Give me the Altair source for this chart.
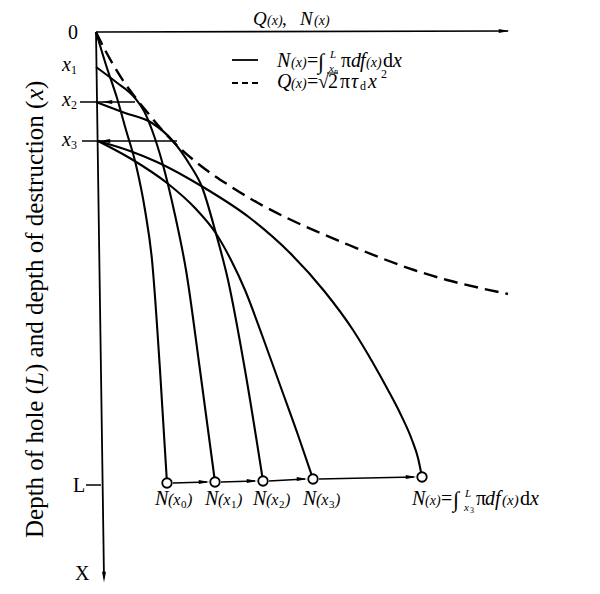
import altair as alt
import pandas as pd

# ---------------- data (N to the right, depth downward; 1 unit ~ 1 px) ----------------
# Q(x) dashed curve
Q_N = [0, 9, 18, 28, 39, 51, 67, 86, 109, 134, 162, 191, 222, 253, 285, 318, 351, 384, 412]
Q_D = [0, 18, 34, 50, 65, 80, 99, 118, 137, 154, 171, 186, 200, 213, 226, 238, 248, 256, 262]

# N(x) curves
C0_N = [0, 10, 21, 30, 40, 49, 56, 64, 71]
C0_D = [0, 33, 66, 98, 133, 178, 228, 338, 451]
C1_N = [0, 20, 39, 48, 56, 67, 79, 90, 104, 119]
C1_D = [35, 50, 66, 79, 98, 133, 183, 238, 338, 450]
C2_N = [0, 29, 56, 76, 94, 106, 119, 132, 149, 167]
C2_D = [70, 81, 91, 108, 133, 155, 198, 248, 338, 449]
C3_N = [2, 37, 71, 99, 119, 135, 149, 166, 184, 202, 217]
C3_D = [109, 128, 151, 176, 200, 228, 258, 303, 353, 403, 447]
C4_N = [2, 34, 61, 107, 154, 194, 229, 257, 277, 292, 304, 316, 322, 326]
C4_D = [109, 119, 130, 155, 186, 221, 260, 298, 331, 358, 381, 408, 426, 445]

# end points N(x0) ... N(x) at the hole depth L
END_N = [71, 119, 167, 217, 326]
END_D = [451, 450, 449, 447, 445]

# depth marks on the vertical axis
DEPTH_X1, DEPTH_X2, DEPTH_X3, DEPTH_L = 35, 70, 109, 453

FONT = "Liberation Serif, Times New Roman, DejaVu Serif, serif"
XS = alt.Scale(domain=[0, 416], range=[88, 504])
YS = alt.Scale(domain=[0, 550], range=[24, 574])


def X(f):
    return alt.X(f"{f}:Q", scale=XS, axis=None)


def Y(f):
    return alt.Y(f"{f}:Q", scale=YS, axis=None)


rows = []
for name, ns, ds in [("x0", C0_N, C0_D), ("x1", C1_N, C1_D), ("x2", C2_N, C2_D),
                     ("x3a", C3_N, C3_D), ("x3b", C4_N, C4_D)]:
    for i, (n, d) in enumerate(zip(ns, ds)):
        rows.append({"curve": name, "i": i, "N": n, "D": d})
curves_df = pd.DataFrame(rows)
q_df = pd.DataFrame({"i": range(len(Q_N)), "N": Q_N, "D": Q_D})
end_df = pd.DataFrame({"N": END_N, "D": END_D})

# straight segments: axes, ticks, guide lines, arrows between end points
seg = [
    {"n1": 0, "d1": 0, "n2": 412, "d2": -1, "w": 1.6},              # top axis
    {"n1": 0, "d1": 0, "n2": 8, "d2": 546, "w": 1.8},               # depth axis
    {"n1": -16, "d1": DEPTH_X2, "n2": 39, "d2": DEPTH_X2, "w": 1.3},
    {"n1": -14, "d1": DEPTH_X3, "n2": 81, "d2": DEPTH_X3, "w": 1.3},
    {"n1": -10, "d1": DEPTH_L, "n2": 5, "d2": DEPTH_L, "w": 1.5},
    {"n1": 231, "d1": 41, "n2": 242, "d2": 41, "w": 1.0},          # radical overbar
    {"n1": 136, "d1": 28, "n2": 162, "d2": 28, "w": 1.8},          # legend solid
]
for k in range(4):
    seg.append({"n1": END_N[k] + 6, "d1": END_D[k], "n2": END_N[k + 1] - 8,
                "d2": END_D[k + 1], "w": 1.3})
seg_df = pd.DataFrame(seg)

ARROW = "M-1,-0.38L1,0L-1,0.38Z"
heads = [{"N": 408, "D": -1, "a": 0}, {"N": 8, "D": 545, "a": 90},
         {"N": 11, "D": DEPTH_X2, "a": 180}, {"N": 9, "D": DEPTH_X3, "a": 180}]
for k in range(4):
    heads.append({"N": END_N[k + 1] - 11, "D": END_D[k + 1], "a": 0})
heads_df = pd.DataFrame(heads)

# text pieces: (text, N, D baseline, size, italic)
T = [
    ("Q", 157, -7, 19, 1), ("(x)", 171, -7, 14, 1), (",", 186, -7, 19, 0),
    ("N", 204, -7, 19, 1), ("(x)", 218, -7, 14, 1),
    ("N", 181, 35, 20, 1), ("(x)", 195, 35, 14, 1), ("=", 211, 35, 20, 0),
    ("∫", 222, 37, 22, 0), ("L", 234, 26, 11, 1), ("x", 233, 40, 11, 1), ("n", 238, 42, 8, 1),
    ("π", 245, 35, 20, 0), ("d", 255, 35, 20, 1), ("f", 264, 35, 20, 1),
    ("(x)", 270, 35, 14, 1), ("d", 287, 35, 20, 0), ("x", 297, 35, 20, 1),
    ("Q", 181, 56, 20, 1), ("(x)", 195, 56, 14, 1), ("=", 211, 56, 20, 0),
    ("√", 222, 56, 20, 0), ("2", 232, 56, 20, 0), ("π", 244, 56, 20, 0),
    ("τ", 255, 56, 20, 1), ("d", 264, 58, 12, 0), ("x", 272, 56, 20, 1), ("2", 285, 46, 12, 0),
    ("0", -28, 7, 20, 0),
    ("x", -34, DEPTH_X1 + 4, 20, 1), ("1", -25, DEPTH_X1 + 7, 12, 0),
    ("x", -34, DEPTH_X2 + 4, 20, 1), ("2", -25, DEPTH_X2 + 7, 12, 0),
    ("x", -34, DEPTH_X3 + 5, 20, 1), ("3", -25, DEPTH_X3 + 8, 12, 0),
    ("L", -23, DEPTH_L + 7, 20, 0), ("X", -21, 548, 20, 0),
    ("N", 316, 473, 20, 1), ("(x)", 329, 473, 14, 1), ("=", 345, 473, 20, 0),
    ("∫", 357, 475, 22, 0), ("L", 369, 465, 11, 1), ("x", 368, 479, 11, 1), ("3", 374, 481, 8, 0),
    ("π", 380, 473, 20, 0), ("d", 389, 473, 20, 1), ("f", 399, 473, 20, 1),
    ("(x)", 406, 473, 15, 1), ("d", 424, 473, 20, 0), ("x", 434, 473, 20, 1),
]
for k, b in enumerate([59, 109, 157, 207]):
    T += [("N", b, 473, 20, 1), ("(x", b + 13, 473, 16, 1),
          (str(k), b + 26, 476, 11, 0), (")", b + 32, 473, 16, 1)]
text_df = pd.DataFrame(T, columns=["t", "N", "D", "s", "it"])

YT = [("Depth of hole (", 506, 0), ("L", 354, 1), (") and depth of destruction (", 340, 0),
      ("x", 68, 1), (")", 57, 0)]
ytitle_df = pd.DataFrame([{"t": t, "N": -53, "D": d, "it": it} for t, d, it in YT])

# ---------------- layers ----------------
rules = alt.Chart(seg_df).mark_rule(color="black").encode(
    x=X("n1"), y=Y("d1"), x2="n2:Q", y2="d2:Q",
    strokeWidth=alt.StrokeWidth("w:Q", scale=None))

legend_dash = alt.Chart(pd.DataFrame({"n1": [136], "n2": [162], "d": [51]})).mark_rule(
    color="black", strokeWidth=2, strokeDash=[6, 4]).encode(x=X("n1"), x2="n2:Q", y=Y("d"))

lines = alt.Chart(curves_df).mark_line(color="black", strokeWidth=2.1, interpolate="monotone").encode(
    x=X("N"), y=Y("D"), detail="curve:N", order="i:Q")

qline = alt.Chart(q_df).mark_line(color="black", strokeWidth=2.4, strokeDash=[14, 7],
                                  interpolate="monotone").encode(x=X("N"), y=Y("D"), order="i:Q")

arrowheads = alt.Chart(heads_df).mark_point(shape=ARROW, filled=True, color="black", size=110,
                                            opacity=1).encode(
    x=X("N"), y=Y("D"), angle=alt.Angle("a:Q", scale=None))

ends = alt.Chart(end_df).mark_point(shape="circle", filled=True, fill="white", stroke="black",
                                    strokeWidth=1.8, size=90, opacity=1).encode(x=X("N"), y=Y("D"))


def texts(df, italic, **kw):
    sub = df[df["it"] == italic]
    return alt.Chart(sub).mark_text(font=FONT, align="left", baseline="alphabetic", color="black",
                                    fontStyle="italic" if italic else "normal", **kw)


t_norm = texts(text_df, 0).encode(x=X("N"), y=Y("D"), text="t:N", size=alt.Size("s:Q", scale=None))
t_ital = texts(text_df, 1).encode(x=X("N"), y=Y("D"), text="t:N", size=alt.Size("s:Q", scale=None))
y_norm = texts(ytitle_df, 0, angle=270, fontSize=25).encode(x=X("N"), y=Y("D"), text="t:N")
y_ital = texts(ytitle_df, 1, angle=270, fontSize=25).encode(x=X("N"), y=Y("D"), text="t:N")

chart = alt.layer(rules, legend_dash, lines, qline, arrowheads, ends,
                  t_norm, t_ital, y_norm, y_ital).properties(
    width=584, height=578, padding=0, autosize=alt.AutoSizeParams(type="none"),
    background="white").configure_view(stroke=None)

chart.save("out.html", embed_options={"renderer": "svg", "actions": False})
